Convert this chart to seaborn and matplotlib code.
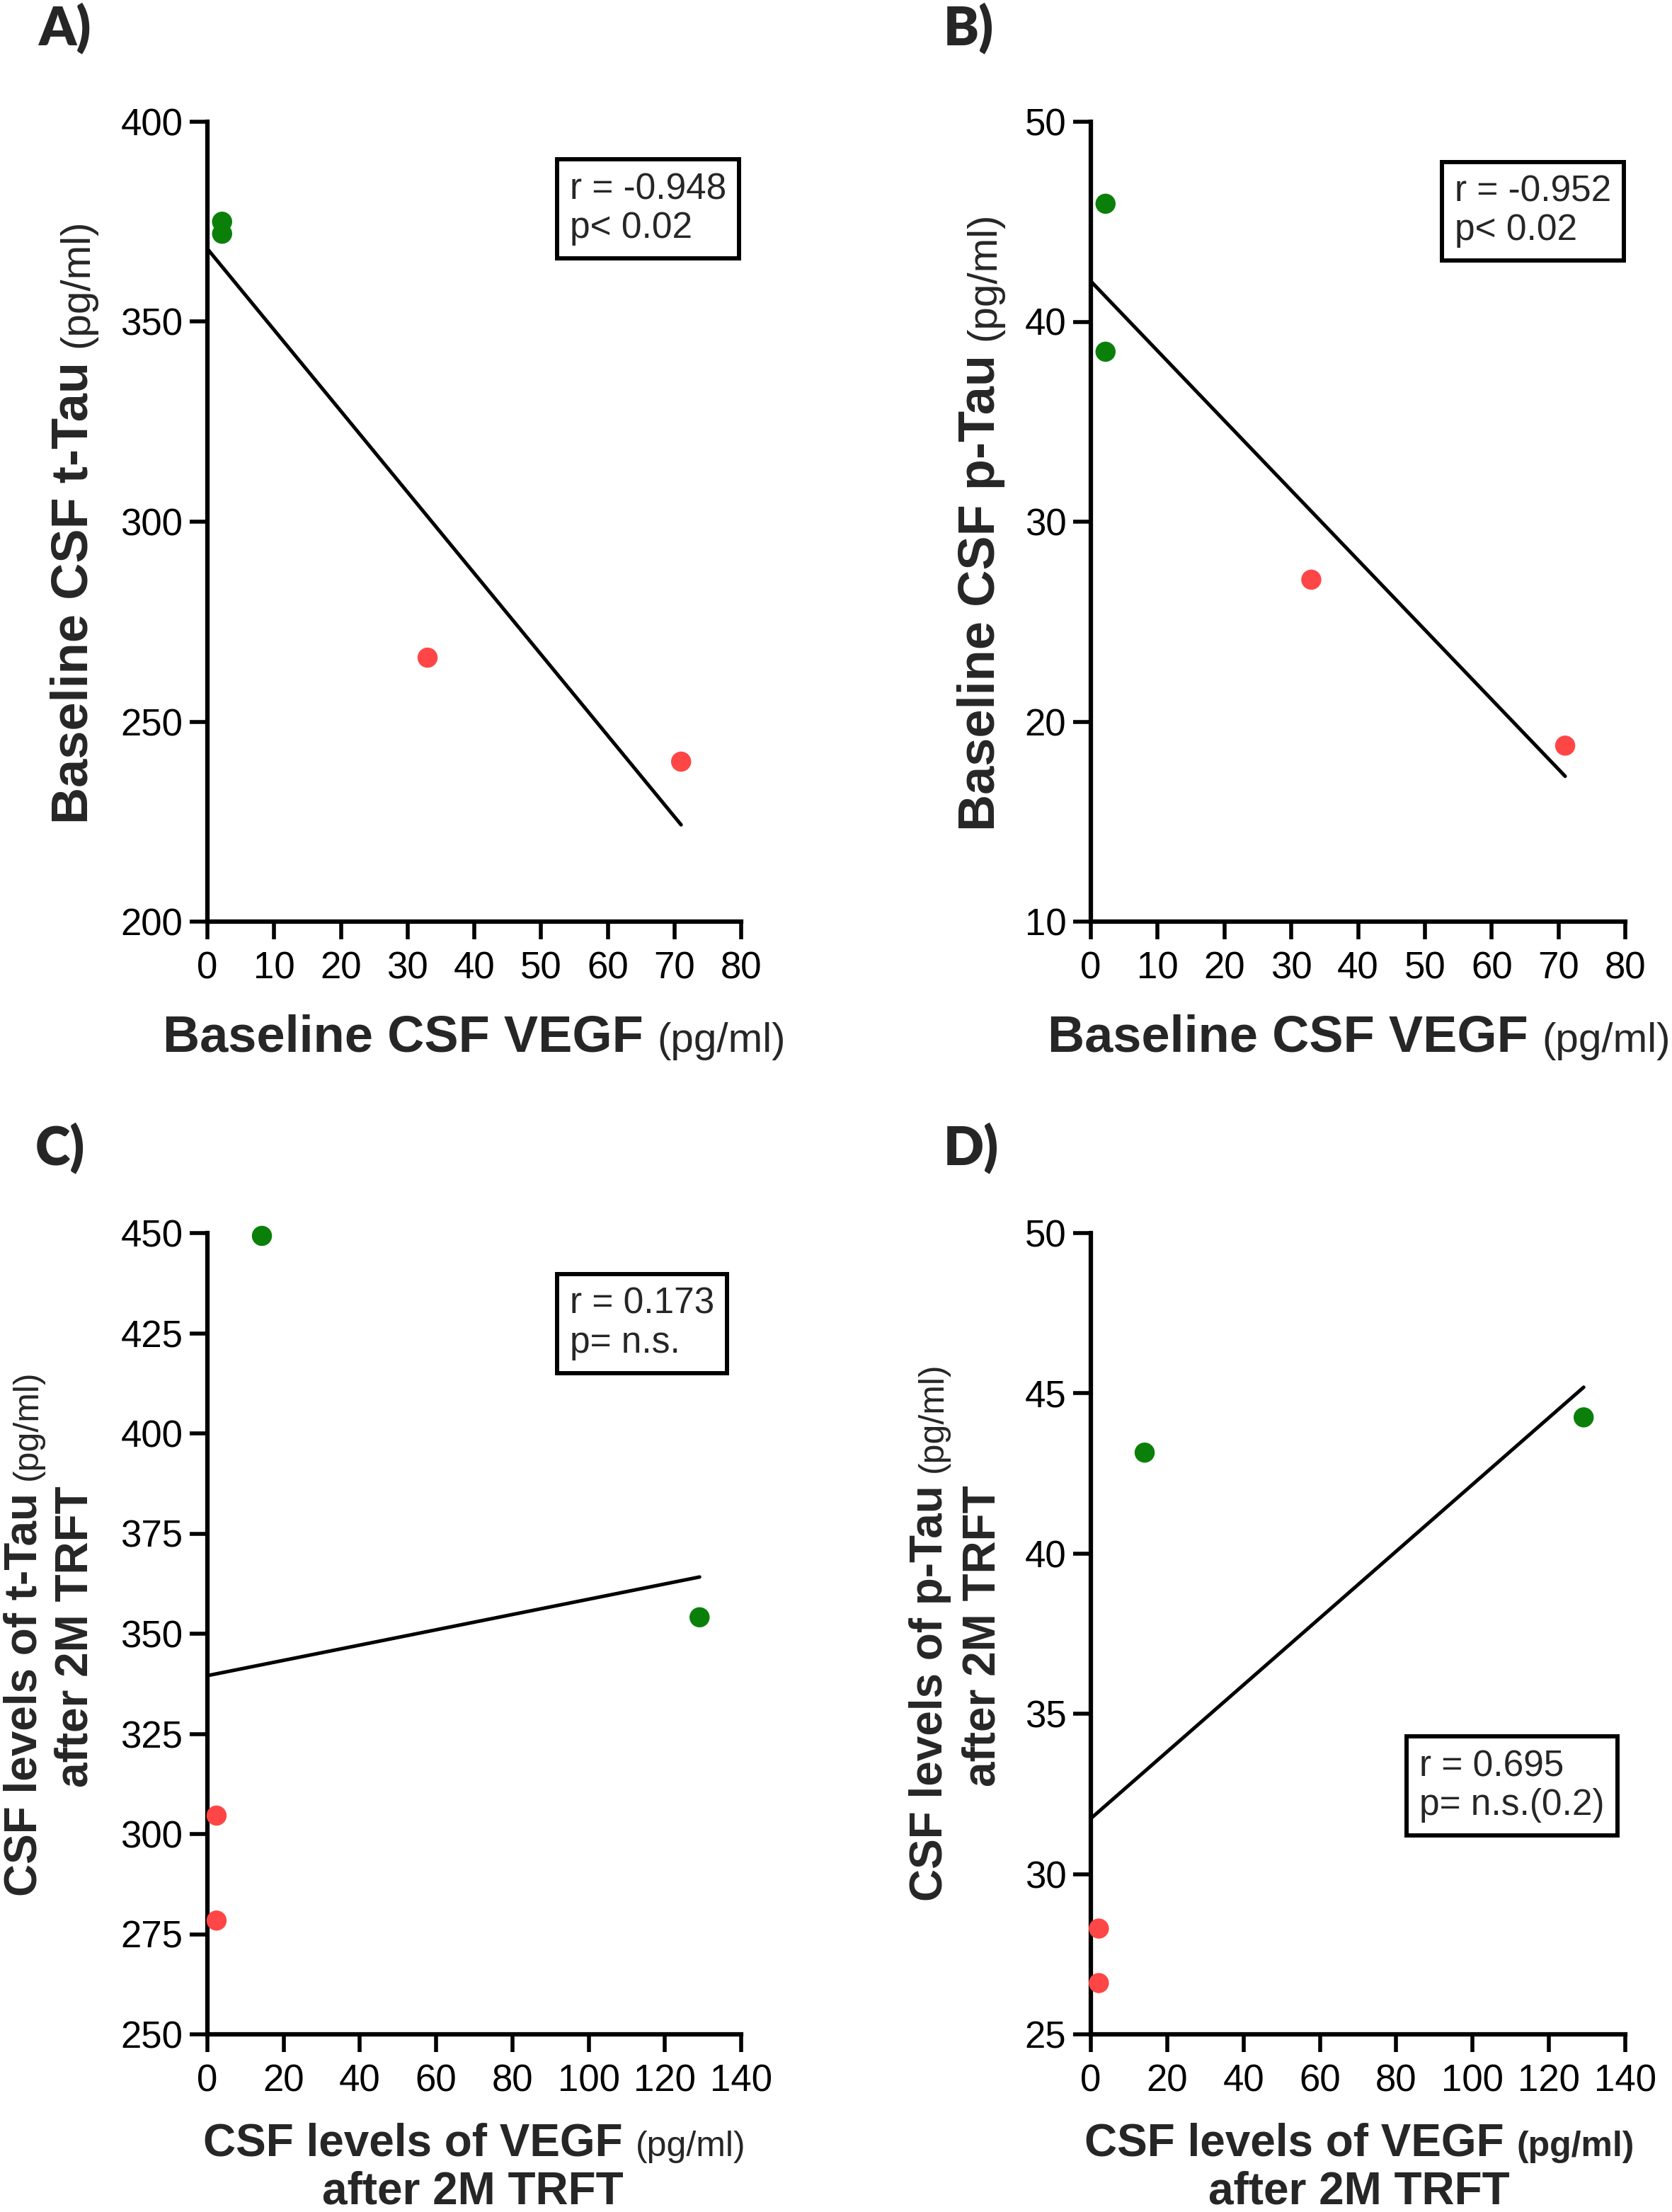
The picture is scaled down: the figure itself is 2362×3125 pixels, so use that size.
import numpy as np
import pandas as pd
import matplotlib
matplotlib.use("Agg")
import matplotlib.pyplot as plt
import seaborn as sns
from matplotlib.transforms import IdentityTransform

# ---------------- data ----------------
a_vegf = [2.2, 2.2, 33.0, 71.0]
a_ttau = [375.0, 372.0, 266.0, 240.0]
a_group = ["green", "green", "red", "red"]

b_vegf = [2.2, 2.2, 33.0, 71.0]
b_ptau = [45.9, 38.5, 27.1, 18.8]
b_group = ["green", "green", "red", "red"]

c_vegf = [14.3, 129.1, 2.4, 2.4]
c_ttau = [449.3, 354.1, 304.6, 278.4]
c_group = ["green", "green", "red", "red"]

d_vegf = [14.1, 129.1, 2.1, 2.1]
d_ptau = [43.15, 44.25, 28.3, 26.6]
d_group = ["green", "green", "red", "red"]

stats_a = "r = -0.948\np< 0.02"
stats_b = "r = -0.952\np< 0.02"
stats_c = "r = 0.173\np= n.s."
stats_d = "r = 0.695\np= n.s.(0.2)"

xticks_ab = [0, 10, 20, 30, 40, 50, 60, 70, 80]
xticks_cd = [0, 20, 40, 60, 80, 100, 120, 140]
yticks_a = [200, 250, 300, 350, 400]
yticks_b = [10, 20, 30, 40, 50]
yticks_c = [250, 275, 300, 325, 350, 375, 400, 425, 450]
yticks_d = [25, 30, 35, 40, 45, 50]

palette = {"green": "#0a800a", "red": "#ff4646"}

# ---------------- style ----------------
sns.set_theme(style="ticks")
plt.rcParams["font.family"] = ["Liberation Sans", "DejaVu Sans"]

W, H = 2362, 3125
DPI = 100
fig = plt.figure(figsize=(W / DPI, H / DPI), dpi=DPI)


def fr(x0, x1, ytop, ybot):
    return [x0 / W, 1 - ybot / H, (x1 - x0) / W, (ybot - ytop) / H]


panels = [
    dict(x=a_vegf, y=a_ttau, g=a_group, xt=xticks_ab, yt=yticks_a,
         rect=fr(293, 1047, 172, 1302), stats=stats_a, sxy=(0.679, 0.937)),
    dict(x=b_vegf, y=b_ptau, g=b_group, xt=xticks_ab, yt=yticks_b,
         rect=fr(1541, 2296, 172, 1302), stats=stats_b, sxy=(0.681, 0.934)),
    dict(x=c_vegf, y=c_ttau, g=c_group, xt=xticks_cd, yt=yticks_c,
         rect=fr(293, 1047, 1742, 2874), stats=stats_c, sxy=(0.679, 0.933)),
    dict(x=d_vegf, y=d_ptau, g=d_group, xt=xticks_cd, yt=yticks_d,
         rect=fr(1541, 2296, 1742, 2874), stats=stats_d, sxy=(0.615, 0.356)),
]

for p in panels:
    ax = fig.add_axes(p["rect"])
    df = pd.DataFrame({"x": p["x"], "y": p["y"], "g": p["g"]})
    slope, icpt = np.polyfit(df["x"], df["y"], 1)
    xl = np.array([0.0, df["x"].max()])
    sns.lineplot(x=xl, y=icpt + slope * xl, ax=ax, color="black", lw=3.6)
    sns.scatterplot(data=df, x="x", y="y", hue="g", palette=palette, s=420,
                    edgecolor="none", legend=False, ax=ax, clip_on=False, zorder=5)
    ax.set_xlim(p["xt"][0], p["xt"][-1])
    ax.set_ylim(p["yt"][0], p["yt"][-1])
    ax.set_xticks(p["xt"])
    ax.set_yticks(p["yt"])
    ax.set_xlabel("")
    ax.set_ylabel("")
    for s in ["top", "right"]:
        ax.spines[s].set_visible(False)
    for s in ["left", "bottom"]:
        ax.spines[s].set_linewidth(4.5)
        ax.spines[s].set_color("black")
    ax.tick_params(axis="both", length=18, width=4.0, labelsize=38,
                   color="black", labelcolor="black")
    ax.tick_params(axis="x", pad=12)
    ax.tick_params(axis="y", pad=7)
    ax.text(p["sxy"][0], p["sxy"][1], p["stats"], transform=ax.transAxes,
            ha="left", va="top", fontsize=37, linespacing=1.15,
            bbox=dict(boxstyle="square,pad=0.35", fc="white", ec="black", lw=4.3),
            zorder=10)

renderer = fig.canvas.get_renderer()


def rich(pieces, center, base, vertical):
    """pieces: list of (text, size, weight); coords in top-origin pixels."""
    ts = []
    for s, size, weight in pieces:
        t = fig.text(0, 0, s, fontsize=size, fontweight=weight,
                     rotation=90 if vertical else 0, rotation_mode="anchor",
                     ha="left", va="baseline", transform=IdentityTransform())
        ts.append(t)
    lens = []
    for t in ts:
        bb = t.get_window_extent(renderer)
        lens.append(bb.height if vertical else bb.width)
    gap = 0.28 * pieces[0][1] * DPI / 72
    total = sum(lens) + gap * (len(ts) - 1)
    if vertical:
        pos = (H - center) - total / 2
    else:
        pos = center - total / 2
    for t, L in zip(ts, lens):
        if vertical:
            t.set_position((base, pos))
        else:
            t.set_position((pos, H - base))
        pos += L + gap


# axis labels
rich([("Baseline CSF t-Tau", 52, "bold"), ("(pg/ml)", 42, "normal")], 737, 124, True)
rich([("Baseline CSF p-Tau", 52, "bold"), ("(pg/ml)", 42, "normal")], 737, 1405, True)
rich([("Baseline CSF VEGF", 52, "bold"), ("(pg/ml)", 42, "normal")], 670, 1486, False)
rich([("Baseline CSF VEGF", 52, "bold"), ("(pg/ml)", 42, "normal")], 1920, 1486, False)

rich([("CSF levels of t-Tau", 46, "bold"), ("(pg/ml)", 36, "normal")], 2307, 52, True)
rich([("after 2M TRFT", 46, "bold")], 2312, 124, True)
rich([("CSF levels of p-Tau", 46, "bold"), ("(pg/ml)", 36, "normal")], 2305, 1331, True)
rich([("after 2M TRFT", 46, "bold")], 2311, 1405, True)

rich([("CSF levels of VEGF", 46, "bold"), ("(pg/ml)", 36, "normal")], 670, 3046, False)
rich([("after 2M TRFT", 46, "bold")], 668, 3114, False)
rich([("CSF levels of VEGF", 46, "bold"), ("(pg/ml)", 36, "bold")], 1920, 3046, False)
rich([("after 2M TRFT", 46, "bold")], 1920, 3114, False)

# panel letters
for lab, x, yb in [("A)", 55, 63), ("B)", 1333, 63), ("C)", 50, 1645), ("D)", 1333, 1645)]:
    fig.text(x, H - yb, lab, fontsize=54, fontweight="heavy",
             family=["Lato", "DejaVu Sans"], ha="left", va="baseline",
             transform=IdentityTransform())

fig.savefig("out.png", dpi=DPI)
